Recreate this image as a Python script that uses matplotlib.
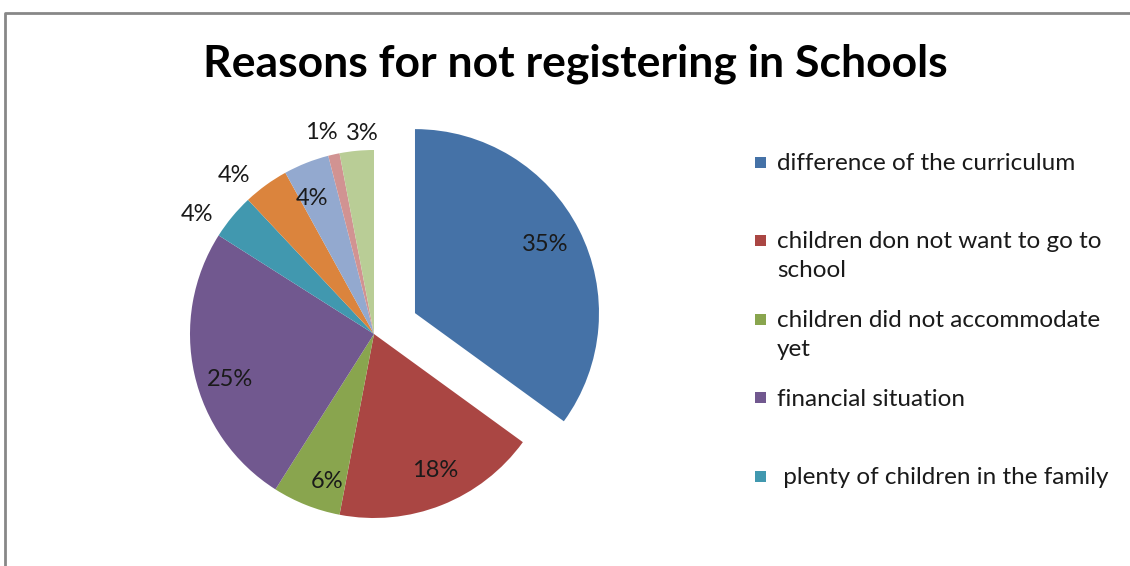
import numpy as np
import matplotlib
matplotlib.use("Agg")
import matplotlib.pyplot as plt
from matplotlib.patches import Rectangle
from matplotlib.lines import Line2D

# Survey shares (percent) for each reason, clockwise from 12 o'clock
reasons = [
    "difference of the curriculum",
    "children don not want to go to\nschool",
    "children did not accommodate\nyet",
    "financial situation",
    " plenty of children in the family",
    "reason 6",
    "reason 7",
    "reason 8",
    "reason 9",
]
shares = [35, 18, 6, 25, 4, 4, 4, 1, 3]
colors = ["#4572A7", "#AA4643", "#89A54E", "#71588F", "#4198AF",
          "#DB843D", "#93A9CF", "#D19392", "#B9CD96"]
legend_count = 5  # only the first entries fit in the legend box

# percentage label placement: radius fraction and angular nudge (degrees)
label_r = [0.80, 0.815, 0.84, 0.82, 1.16, 1.15, 0.81, 1.13, 1.09]
label_nudge = [1, 2.4, 4, 5, 5.6, 5.5, 3, 2, -2]

W, H = 1130, 566
fig = plt.figure(figsize=(W / 100, H / 100), dpi=100)
ax = fig.add_axes([0, 0, 1, 1])

cx, cy, R = 374, H - 334, 184
explode = [46] + [0] * (len(shares) - 1)
wedges, _ = ax.pie(shares, colors=colors, startangle=90, counterclock=False,
                   explode=explode, center=(cx, cy), radius=R,
                   wedgeprops=dict(linewidth=0))

font = "Lato"
for w, v, f, nd in zip(wedges, shares, label_r, label_nudge):
    mid = np.deg2rad((w.theta1 + w.theta2) / 2 + nd)
    x0, y0 = w.center
    ax.text(x0 + f * R * np.cos(mid), y0 + f * R * np.sin(mid), f"{v}%",
            ha="center", va="center", fontsize=17, family=font, color="#1a1a1a")

ax.set_xlim(0, W)
ax.set_ylim(0, H)
ax.set_aspect("equal")
ax.axis("off")

# chart area border (top and left edges visible)
ax.add_line(Line2D([5, 5, W + 5], [-5, H - 13, H - 13], color="#878787", lw=2))

ax.text(575, H - 64, "Reasons for not registering in Schools", ha="center",
        va="center", fontsize=32, fontweight="bold", family=font, color="black")

# legend
lx, ly0, step = 755, H - 162, 78.5
for i in range(legend_count):
    y = ly0 - i * step
    ax.add_patch(Rectangle((lx, y - 5.5), 11, 11, color=colors[i], lw=0))
    ax.text(lx + 22, y + 9, reasons[i], ha="left", va="top", fontsize=17.5,
            family=font, color="#1a1a1a", linespacing=1.45)

fig.savefig("out.png", dpi=100)
